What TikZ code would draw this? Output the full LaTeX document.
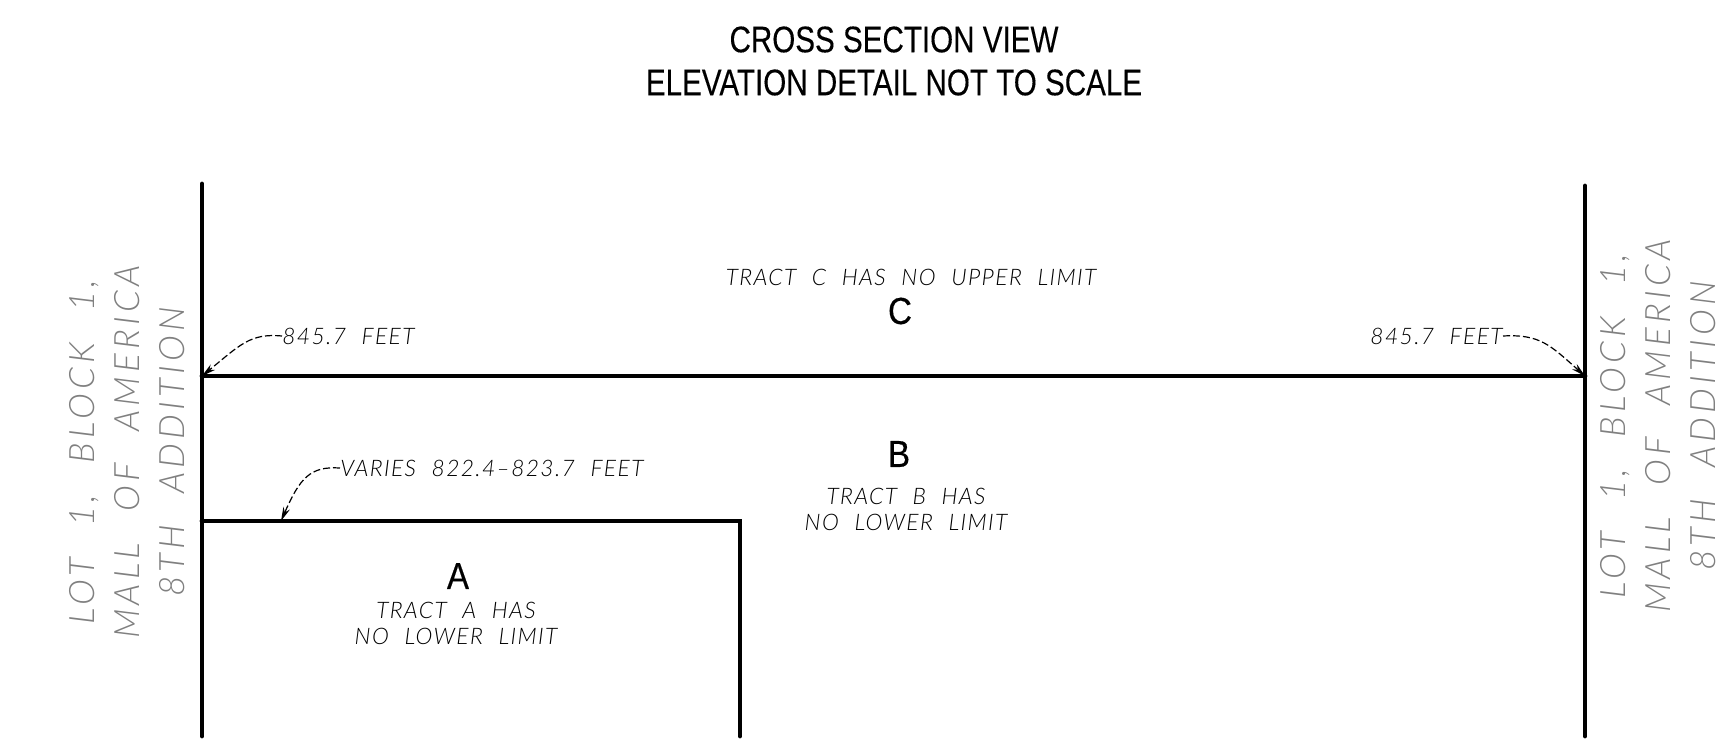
\documentclass[tikz,border=0pt]{standalone}
\usepackage{fontspec}
\usepackage{tikz}
\usetikzlibrary{arrows.meta}
\setmainfont[FakeStretch=0.8,FakeBold=0.2]{Liberation Sans}
\newfontfamily\letterfont[FakeStretch=0.88,FakeBold=0.4]{Liberation Sans}
\newfontfamily\cadfont[LetterSpace=6,WordSpace=2.2]{Lato Light Italic}
\newfontfamily\lotfont[LetterSpace=12,WordSpace=2.4]{Lato Light Italic}
\tikzset{
  wall/.style={line width=2.4pt,line cap=round},
  leader/.style={dash pattern=on 3.5pt off 1.5pt,line width=0.6pt,-{Stealth[length=7pt,width=3.5pt]}},
  tract/.style={font=\cadfont\fontsize{11.4}{13}\selectfont,align=center,inner sep=0pt},
  letter/.style={font=\letterfont\fontsize{18.8}{20}\selectfont,inner sep=0pt},
  lot/.style={font=\lotfont\fontsize{17.5}{22.5}\selectfont,text=black!50,align=center,inner sep=0pt,rotate=90}
}
\begin{document}
\begin{tikzpicture}[x=0.5pt,y=-0.5pt]
  \useasboundingbox (0,0) rectangle (1731,750);
  \node[inner sep=0pt,align=center,font=\fontsize{18.5}{21.5}\selectfont] (title) at (894,61)
    {CROSS SECTION VIEW\\ELEVATION DETAIL NOT TO SCALE};

  \coordinate (LT) at (202,184);
  \coordinate (LC) at (202,376);
  \coordinate (LA) at (202,521);
  \coordinate (LB) at (202,736);
  \coordinate (RT) at (1585,186);
  \coordinate (RC) at (1585,376);
  \coordinate (RB) at (1585,736);
  \coordinate (AE) at (740,521);
  \coordinate (AB) at (740,736);
  \coordinate (AL) at (281,521);

  \draw[wall] (LT) -- (LB);
  \draw[wall] (RT) -- (RB);
  \draw[wall] (LC) -- (RC);
  \draw[wall] (LA) -- (AE) -- (AB);

  \node[tract] (tractC) at (911,277) {TRACT C HAS NO UPPER LIMIT};
  \node[letter] (C) at (900,311) {C};
  \node[letter] (B) at (899,454) {B};
  \node[tract] (tractB) at (906,509) {TRACT B HAS\\NO LOWER LIMIT};
  \node[letter] (A) at (458,576) {A};
  \node[tract] (tractA) at (456,623) {TRACT A HAS\\NO LOWER LIMIT};

  \node[tract,anchor=west] (elevL) at (282,336) {845.7 FEET};
  \node[tract,anchor=east] (elevR) at (1503,336) {845.7 FEET};
  \node[tract,anchor=west] (varies) at (340,468) {VARIES 822.4–823.7 FEET};

  \draw[leader] (elevL.west) .. controls (250,333) and (240,345) .. (LC);
  \draw[leader] (elevR.east) .. controls (1540,334) and (1550,345) .. (RC);
  \draw[leader] (varies.west) .. controls (310,466) and (300,478) .. (AL);

  \node[lot] (lotL) at (127,452) {LOT 1, BLOCK 1,\\MALL OF AMERICA\\8TH ADDITION};
  \node[lot] (lotR) at (1658,426) {LOT 1, BLOCK 1,\\MALL OF AMERICA\\8TH ADDITION};
\end{tikzpicture}
\end{document}
